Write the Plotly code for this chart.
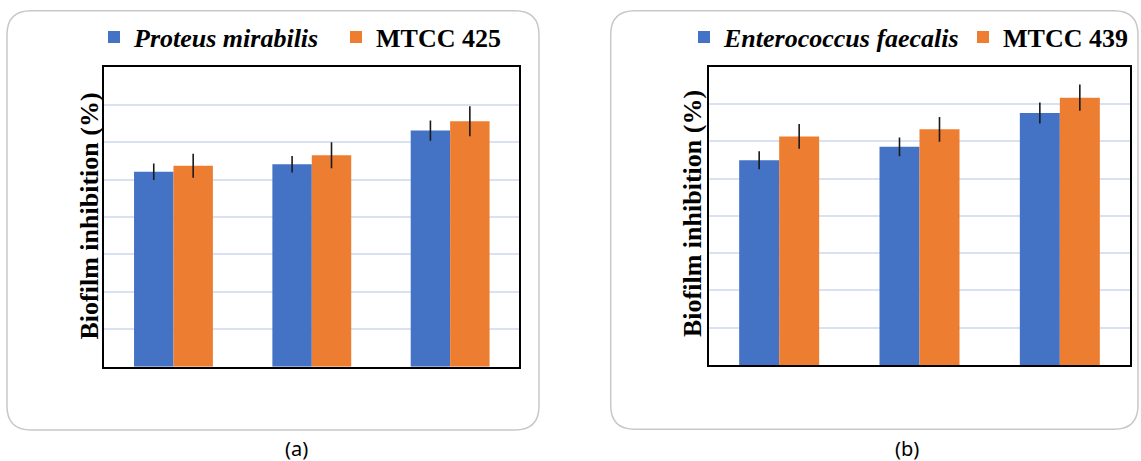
import plotly.graph_objects as go

# ---- data -------------------------------------------------------------
groups = ["T1", "T2", "T3"]

# panel (a): Proteus mirabilis MTCC 425
pm_values = [52.1, 54.1, 63.1]
pm_errors = [2.2, 2.2, 2.7]
mtcc425_values = [53.7, 56.5, 65.6]
mtcc425_errors = [3.2, 3.5, 4.0]

# panel (b): Enterococcus faecalis MTCC 439
ef_values = [54.9, 58.5, 67.6]
ef_errors = [2.4, 2.5, 2.8]
mtcc439_values = [61.3, 63.2, 71.7]
mtcc439_errors = [3.3, 3.3, 3.5]

y_title = "Biofilm inhibition (%)"
captions = ["(a)", "(b)"]

# ---- styling ----------------------------------------------------------
W, H = 1141, 461
BLUE = "#4472C4"
ORANGE = "#ED7D31"
GRID = "#d9e1f2"
SERIF = "Liberation Serif, Times New Roman, serif"


def px(x):
    return x / W


def py(y):
    return 1 - y / H


def rounded_box(x0, y0, x1, y1, r):
    """SVG path (paper coords) of a rounded rectangle given in pixels."""
    pts = [
        ("M", [(x0 + r, y0)]),
        ("L", [(x1 - r, y0)]),
        ("Q", [(x1, y0), (x1, y0 + r)]),
        ("L", [(x1, y1 - r)]),
        ("Q", [(x1, y1), (x1 - r, y1)]),
        ("L", [(x0 + r, y1)]),
        ("Q", [(x0, y1), (x0, y1 - r)]),
        ("L", [(x0, y0 + r)]),
        ("Q", [(x0, y0), (x0 + r, y0)]),
    ]
    out = []
    for cmd, coords in pts:
        out.append(cmd + " ".join(f"{px(a):.5f},{py(b):.5f}" for a, b in coords))
    return " ".join(out) + " Z"


fig = go.Figure()


def add_bars(values, errors, name, color, xa, ya, legend):
    fig.add_trace(go.Bar(
        x=groups, y=values, name=name,
        marker=dict(color=color, line=dict(width=0)),
        error_y=dict(type="data", array=errors, visible=True,
                     color="#1a1a1a", thickness=1.6, width=0),
        xaxis=xa, yaxis=ya, legend=legend,
    ))


add_bars(pm_values, pm_errors, "<i>Proteus mirabilis</i>", BLUE, "x", "y", "legend")
add_bars(mtcc425_values, mtcc425_errors, "MTCC 425", ORANGE, "x", "y", "legend")
add_bars(ef_values, ef_errors, "<i>Enterococcus faecalis</i>", BLUE, "x2", "y2", "legend2")
add_bars(mtcc439_values, mtcc439_errors, "MTCC 439", ORANGE, "x2", "y2", "legend2")

xaxis_common = dict(showticklabels=False, ticks="", showgrid=False,
                    showline=True, linecolor="black", linewidth=2, mirror=True,
                    zeroline=False, fixedrange=True)
yaxis_common = dict(range=[0, 80], dtick=10, showticklabels=False, ticks="",
                    showgrid=True, gridcolor=GRID, gridwidth=1.5,
                    showline=True, linecolor="black", linewidth=2, mirror=True,
                    zeroline=False, fixedrange=True)

legend_common = dict(orientation="h", xanchor="left", yanchor="middle",
                     bgcolor="rgba(0,0,0,0)", borderwidth=0,
                     font=dict(family=SERIF, size=26, color="black", weight="bold"),
                     entrywidthmode="pixels", traceorder="normal")

fig.update_layout(
    width=W, height=H,
    margin=dict(l=0, r=0, t=0, b=0, autoexpand=False),
    paper_bgcolor="white", plot_bgcolor="white",
    barmode="group", bargap=0.43, bargroupgap=0,
    xaxis=dict(domain=[px(104.3), px(519.3)], anchor="y", **xaxis_common),
    yaxis=dict(domain=[py(366.7), py(67.3)], anchor="x", **yaxis_common),
    xaxis2=dict(domain=[px(709), px(1130)], anchor="y2", **xaxis_common),
    yaxis2=dict(domain=[py(365), py(66.7)], anchor="x2", **yaxis_common),
    legend=dict(x=px(94), y=py(37), entrywidth=197, **legend_common),
    legend2=dict(x=px(684), y=py(37), entrywidth=234, **legend_common),
    showlegend=True,
    shapes=[
        dict(type="path", xref="paper", yref="paper", layer="below",
             path=rounded_box(7, 10.7, 539, 430, 24),
             line=dict(color="#c8c8c8", width=1.5)),
        dict(type="path", xref="paper", yref="paper", layer="below",
             path=rounded_box(610.7, 10.7, 1138, 429.3, 24),
             line=dict(color="#c8c8c8", width=1.5)),
    ],
    annotations=[
        dict(text=f"<b>{y_title}</b>", textangle=-90, xref="paper", yref="paper",
             x=px(89), y=py(216.5), xanchor="center", yanchor="middle",
             showarrow=False, font=dict(family=SERIF, size=26, color="black")),
        dict(text=f"<b>{y_title}</b>", textangle=-90, xref="paper", yref="paper",
             x=px(692), y=py(214), xanchor="center", yanchor="middle",
             showarrow=False, font=dict(family=SERIF, size=26, color="black")),
        dict(text=captions[0], xref="paper", yref="paper",
             x=px(297), y=py(448), xanchor="center", yanchor="middle",
             showarrow=False, font=dict(family="Noto Sans", size=20, color="black")),
        dict(text=captions[1], xref="paper", yref="paper",
             x=px(907), y=py(448), xanchor="center", yanchor="middle",
             showarrow=False, font=dict(family="Noto Sans", size=20, color="black")),
    ],
)

fig.write_html("out.html", config={"displayModeBar": False})
